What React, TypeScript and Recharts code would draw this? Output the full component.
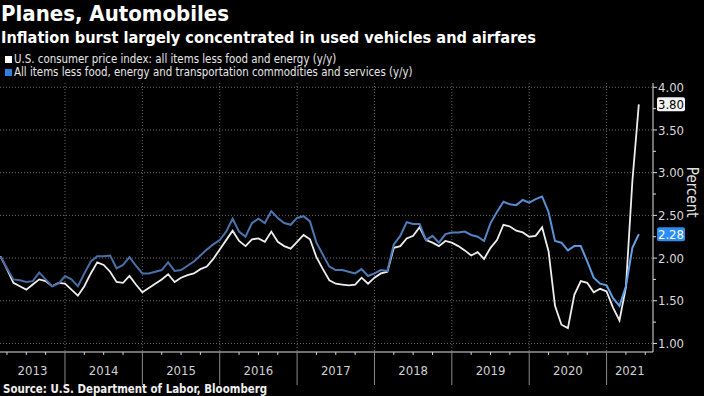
import React from 'react'
import {
  LineChart,
  Line,
  XAxis,
  YAxis,
  CartesianGrid,
  ReferenceArea,
  ReferenceLine,
} from 'recharts'

document.body.style.margin = '0'
document.body.style.background = '#000'

// monthly, first value is Feb 2013, last is May 2021
const START_YEAR = 2013
const START_MONTH = 2

const coreCpi = [
  2.02, 1.87, 1.71, 1.67, 1.63, 1.69, 1.75, 1.73, 1.67, 1.71, 1.70,
  1.63, 1.56, 1.67, 1.82, 1.95, 1.92, 1.84, 1.72, 1.71, 1.79, 1.69, 1.60,
  1.65, 1.70, 1.75, 1.81, 1.72, 1.77, 1.80, 1.82, 1.87, 1.90, 1.99, 2.10,
  2.21, 2.32, 2.20, 2.14, 2.22, 2.23, 2.19, 2.31, 2.19, 2.14, 2.11, 2.19,
  2.27, 2.22, 2.01, 1.87, 1.74, 1.70, 1.69, 1.68, 1.69, 1.77, 1.70, 1.77,
  1.82, 1.84, 2.12, 2.14, 2.23, 2.26, 2.36, 2.21, 2.18, 2.14, 2.20, 2.18,
  2.14, 2.09, 2.03, 2.07, 1.99, 2.12, 2.21, 2.39, 2.37, 2.32, 2.30, 2.25,
  2.26, 2.36, 2.08, 1.44, 1.22, 1.18, 1.57, 1.73, 1.71, 1.60, 1.64, 1.61,
  1.42, 1.27, 1.66, 2.9, 3.8,
]

const exTransport = [
  2.02, 1.88, 1.75, 1.74, 1.72, 1.73, 1.83, 1.75, 1.67, 1.70, 1.79,
  1.75, 1.67, 1.82, 1.96, 2.02, 2.02, 2.03, 1.88, 1.92, 2.01, 1.91, 1.82,
  1.82, 1.84, 1.86, 1.95, 1.85, 1.86, 1.91, 1.96, 2.03, 2.10, 2.16, 2.21,
  2.31, 2.46, 2.31, 2.25, 2.41, 2.46, 2.41, 2.55, 2.47, 2.41, 2.39, 2.47,
  2.49, 2.43, 2.18, 2.04, 1.90, 1.86, 1.86, 1.84, 1.82, 1.87, 1.79, 1.82,
  1.86, 1.85, 2.16, 2.26, 2.42, 2.40, 2.40, 2.21, 2.26, 2.18, 2.28, 2.30,
  2.30, 2.31, 2.27, 2.25, 2.20, 2.41, 2.54, 2.66, 2.63, 2.62, 2.68, 2.65,
  2.69, 2.72, 2.54, 2.20, 2.18, 2.09, 2.14, 2.14, 1.96, 1.77, 1.70, 1.68,
  1.53, 1.44, 1.67, 2.12, 2.28,
]

const years = [2013, 2014, 2015, 2016, 2017, 2018, 2019, 2020, 2021]
const yTicks = [1, 1.25, 1.5, 1.75, 2, 2.25, 2.5, 2.75, 3, 3.25, 3.5, 3.75, 4]
const yGrid = [1, 1.5, 2, 2.5, 3, 3.5, 4]

const X_DOMAIN: [number, number] = [2013.16, 2021.6]

// x is the end of each month in fractional years
const data = coreCpi.map((v, i) => ({
  t: START_YEAR + (START_MONTH + i) / 12,
  core: v,
  exTransport: exTransport[i],
}))

const quarterTicks: number[] = []
for (const y of years) {
  for (const q of [0, 0.25, 0.5, 0.75]) {
    const t = y + q
    if (t > X_DOMAIN[0] && t < X_DOMAIN[1]) quarterTicks.push(t)
  }
}
const yearLines = years.slice(1)

const FONT = "'DejaVu Sans Condensed', 'DejaVu Sans', sans-serif"

function XTick({ x, y, payload }: any) {
  const isYear = Number.isInteger(payload.value)
  return (
    <line
      x1={x}
      x2={x}
      y1={y}
      y2={y + (isYear ? 33 : 3)}
      stroke={isYear ? '#8a8a8a' : '#cfcfcf'}
      strokeWidth={1}
    />
  )
}

function YTick({ x, y, payload }: any) {
  const v = payload.value
  const major = Math.abs(v * 2 - Math.round(v * 2)) < 1e-6
  return (
    <g>
      <line x1={x} x2={x + (major ? 4 : 3)} y1={y} y2={y} stroke="#dcdcdc" />
      {major && (
        <text x={x + 5} y={y} dy="0.36em" fill="#d8d8d8" fontSize={13}>
          {v.toFixed(2)}
        </text>
      )}
    </g>
  )
}

function ValueTag({ viewBox, value, bg, fg }: any) {
  const x = viewBox.x + viewBox.width + 4
  const y = viewBox.y
  return (
    <g>
      <rect x={x} y={y - 7} width={28} height={14} rx={2} fill={bg} />
      <text x={x + 14} y={y} dy="0.36em" textAnchor="middle" fill={fg} fontSize={13}>
        {value.toFixed(2)}
      </text>
    </g>
  )
}

export default function App() {
  const lastCore = coreCpi[coreCpi.length - 1]
  const lastEx = exTransport[exTransport.length - 1]
  return (
    <div
      style={{
        position: 'relative',
        width: 704,
        height: 396,
        background: '#000',
        color: '#fff',
        fontFamily: FONT,
        fontStretch: 'condensed',
        overflow: 'hidden',
      }}
    >
      <div style={{ position: 'absolute', left: 1, top: 1, fontSize: 22, fontWeight: 'bold' }}>
        Planes, Automobiles
      </div>
      <div style={{ position: 'absolute', left: 1, top: 28, fontSize: 16.2, fontWeight: 'bold' }}>
        Inflation burst largely concentrated in used vehicles and airfares
      </div>
      <div style={{ position: 'absolute', left: 5, top: 53, fontSize: 11.4, color: '#e6e6e6', lineHeight: '13px' }}>
        <div style={{ display: 'flex', alignItems: 'center' }}>
          <span style={{ width: 7, height: 7, background: '#fff', marginRight: 2 }} />
          U.S. consumer price index: all items less food and energy (y/y)
        </div>
        <div style={{ display: 'flex', alignItems: 'center' }}>
          <span style={{ width: 7, height: 7, background: '#2f7fe0', marginRight: 2 }} />
          All items less food, energy and transportation commodities and services (y/y)
        </div>
      </div>

      <div style={{ position: 'absolute', left: 0, top: 0 }}>
        <LineChart
          width={704}
          height={396}
          data={data}
          margin={{ top: 83, right: 0, bottom: 14, left: 0 }}
        >
          <defs>
            <linearGradient id="blueGrad" x1="0" y1="0" x2="1" y2="0">
              <stop offset="0%" stopColor="#46689e" />
              <stop offset="70%" stopColor="#4f7dbd" />
              <stop offset="100%" stopColor="#63a3ec" />
            </linearGradient>
          </defs>
          <CartesianGrid
            stroke="#6a6a6a"
            strokeDasharray="1 2"
            horizontalValues={yGrid}
            verticalValues={yearLines}
          />
          <XAxis
            dataKey="t"
            type="number"
            domain={X_DOMAIN}
            allowDataOverflow
            ticks={quarterTicks}
            interval={0}
            tick={<XTick />}
            tickLine={false}
            tickSize={0}
            tickMargin={0}
            axisLine={{ stroke: '#e0e0e0' }}
            height={30}
          />
          <YAxis
            orientation="right"
            domain={[0.9, 4.05]}
            allowDataOverflow
            ticks={yTicks}
            interval={0}
            width={51}
            tick={<YTick />}
            tickLine={false}
            tickSize={0}
            tickMargin={0}
            axisLine={{ stroke: '#e0e0e0' }}
            label={{
              value: 'Percent',
              angle: 90,
              position: 'insideRight',
              offset: 12,
              fill: '#e0e0e0',
              fontSize: 15,
            }}
          />
          {years.map((y) => (
            <ReferenceArea
              key={y}
              x1={Math.max(y, X_DOMAIN[0])}
              x2={Math.min(y + 1, X_DOMAIN[1])}
              fill="none"
              stroke="none"
              label={{ value: String(y), position: 'bottom', offset: 14, fill: '#d0d0d0', fontSize: 13 }}
            />
          ))}
          <Line
            dataKey="core"
            stroke="#eeeeee"
            strokeWidth={1.8}
            dot={false}
            isAnimationActive={false}
          />
          <Line
            dataKey="exTransport"
            stroke="url(#blueGrad)"
            strokeWidth={2}
            dot={false}
            isAnimationActive={false}
          />
          <ReferenceLine
            y={lastCore}
            stroke="none"
            label={<ValueTag value={lastCore} bg="#f4f4f4" fg="#000" />}
          />
          <ReferenceLine
            y={lastEx}
            stroke="none"
            label={<ValueTag value={lastEx} bg="#2c8cf0" fg="#fff" />}
          />
        </LineChart>
      </div>

      <div style={{ position: 'absolute', left: 3, top: 382, fontSize: 11.4, fontWeight: 'bold', color: '#f0f0f0' }}>
        Source: U.S. Department of Labor, Bloomberg
      </div>
    </div>
  )
}
